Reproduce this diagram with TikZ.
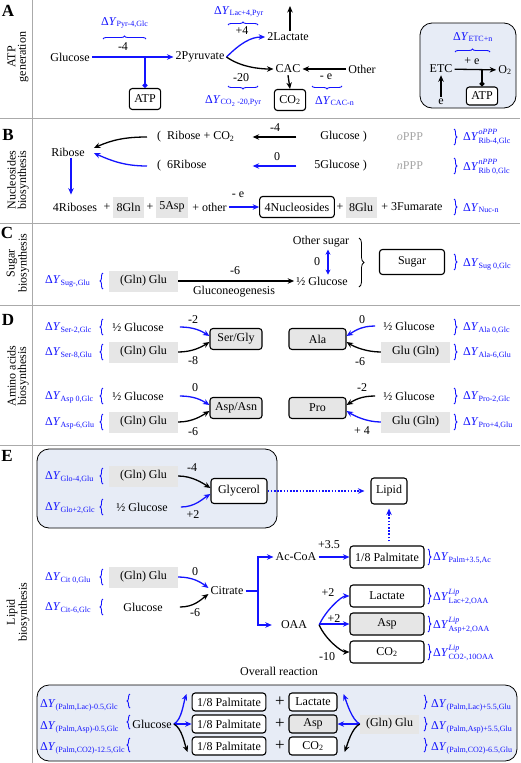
\documentclass[tikz,border=0pt]{standalone}
\usepackage{amsmath}
\usepackage{fontspec}
\setmainfont{Liberation Serif}
\usetikzlibrary{arrows.meta,decorations.pathreplacing,positioning,calc}
\definecolor{dyblue}{RGB}{20,20,255}
\definecolor{boxgray}{RGB}{230,230,230}
\definecolor{panelblue}{RGB}{231,236,246}
\definecolor{rulegray}{RGB}{170,170,170}
\definecolor{ppp}{RGB}{165,165,165}
\newcommand{\dY}[1]{\textcolor{dyblue}{Δ\textit{Y}$_{\text{#1}}$}}
\newcommand{\dYL}[2]{\textcolor{dyblue}{Δ\textit{Y}$^{\text{\raisebox{1.5pt}{\itshape #1}}}_{\text{#2}}$}}

\begin{document}
\begin{tikzpicture}[x=1pt,y=-1pt,
every node/.style={font=\fontsize{12}{13}\selectfont, inner sep=2pt},
flow/.style={-{Stealth[length=6.5pt,width=5.5pt]}, line width=1.3pt},
bflow/.style={flow, color=dyblue},
dotflow/.style={bflow, dash pattern=on 1.6pt off 1.6pt},
prod/.style={draw, rounded corners=3pt, line width=1.1pt, fill=white,
	minimum height=21pt, inner xsep=5pt},
aa/.style={prod, fill=boxgray},
thinbox/.style={minimum height=18pt, inner ysep=1pt},
src/.style={fill=boxgray, minimum height=21pt, inner xsep=3.5pt},
lft/.style={minimum width=69pt},
dy/.style={anchor=west, text=dyblue},
ybrace/.style={draw=dyblue, decorate, decoration={brace, amplitude=3pt}, line width=0.9pt},
rulel/.style={draw=rulegray, line width=1pt},
panel/.style={draw, fill=panelblue, rounded corners=12pt, line width=0.8pt},
tag/.style={font=\fontsize{17}{17}\selectfont\bfseries},
side/.style={rotate=90, align=center, font=\fontsize{12}{10.5}\selectfont}
]
\useasboundingbox (0,0) rectangle (520,763);
\fill[white] (0,0) rectangle (520,763);

% section rules
\draw[rulel] (32,0) -- (32,763);
\foreach \y in {118,223,305,445}
	\draw[rulel] (0,\y) -- (520,\y);

% ---------- A: ATP generation ----------
\node[tag] (tA) at (8,11) {A};
\node[side] (sA) at (18,57) {ATP\\generation};
\node (glc) at (70,57) {Glucose};
\node (pyr) at (200,57) {2Pyruvate};
\node[prod] (atp) at (145,99) {ATP};
\draw[bflow] (glc) -- (pyr);
\node (lPyr) at (123,47) {-4};
\draw[dyblue, line width=1.3pt, -{Circle[length=5pt]}] (atp.north |- glc) -- (atp.north);
\node[dy] (dyPyr) at (99,23) {\dY{Pyr-4,Glc}};
\draw[ybrace] (103,39) -- (146,39);

\node (lac) at (288,37) {2Lactate};
\node (cac) at (288,69) {CAC};
\node[prod] (co2a) at (290,100) {CO\textsubscript{2}};
\node (oth) at (362,69) {Other};
\coordinate (lacup) at (290,6);
\draw[bflow] (pyr.east) .. controls +(14,-14) and +(-14,0) .. (lac.west);
\draw[flow] (pyr.east) .. controls +(14,10) and +(-14,0) .. (cac.west);
\draw[flow] (lac.north -| lacup) -- (lacup);
\draw[flow] (oth.west) -- (cac.east);
\draw[flow] (cac.south) -- (co2a.north);
\node (lLac) at (242,31) {+4};
\node (lCO2) at (241,78) {-20};
\node (lOth) at (326,77) {- e};
\node[dy] (dyLac) at (212,12) {\dY{Lac+4,Pyr}};
\draw[ybrace] (228,25) -- (258,25);
\draw[ybrace] (258,86) -- (228,86);
\node[dy] (dyCO2) at (203,101) {\dY{CO\textsubscript{2} -20,Pyr}};
\draw[ybrace] (342,86) -- (312,86);
\node[dy] (dyCAC) at (313,101) {\dY{CAC-n}};

% ETC inset
\draw[panel] (420,23) rectangle (516,108);
\node[dy] (dyETC) at (451,37) {\dY{ETC+n}};
\draw[ybrace] (455,52) -- (490,52);
\node (etc) at (441,69) {ETC};
\node (o2) at (505,70) {O\textsubscript{2}};
\node[prod, minimum height=18pt] (atp2) at (482,96) {ATP};
\node (e) at (441,102) {e};
\draw[flow] (etc) -- (o2);
\node (lETC) at (472,61) {+ e};
\draw[line width=1.3pt, -{Circle[length=5pt]}] (atp2.north |- etc) -- (atp2.north);
\draw[flow] (e.north) -- (etc.south);

% ---------- B: nucleosides ----------
\node[tag] (tB) at (8,135) {B};
\node[side] (sB) at (18,180) {Nucleosides\\biosynthesis};
\node (rib) at (68,152) {Ribose};
\node[anchor=west] (ribco2) at (155,137) {(~~Ribose + CO\textsubscript{2}};
\node[anchor=west] (rib6) at (155,166) {(~~6Ribose};
\node[anchor=east] (glcox) at (369,137) {Glucose~)};
\node[anchor=east] (glcnon) at (369,166) {5Glucose~)};
\draw[flow] ($(glcnon.west |- glcox.west)+(-16,0)$) -- ($(ribco2.east)+(16,0)$);
\draw[bflow] ($(glcnon.west)+(-16,0)$) -- ($(ribco2.east |- rib6.east)+(16,0)$);
\node (lOx) at (275,128) {-4};
\node (lNon) at (277,157) {0};
\node[text=ppp] (oppp) at (410,137) {\textit{o}PPP};
\node[text=ppp] (nppp) at (410,166) {\textit{n}PPP};
\draw[ybrace] (454,129) -- (454,145);
\node[dy] (dyOx) at (461,137) {\dYL{oPPP}{Rib-4,Glc}};
\draw[ybrace] (454,158) -- (454,174);
\node[dy] (dyNon) at (461,167) {\dYL{nPPP}{Rib 0,Glc}};
\draw[flow] ([xshift=-8pt]ribco2.west) .. controls +(-22,0) and +(18,-8) .. ([xshift=7pt,yshift=4pt]rib.east);
\draw[bflow] ([xshift=-8pt]rib6.west) .. controls +(-22,0) and +(18,8) .. ([xshift=7pt,yshift=-1pt]rib.east);

\node (ribs) at (75,207) {4Riboses};
\node (p1) at (107,207) {+};
\node[src] (gln) at (128.5,207) {8Gln};
\node (p2) at (150,207) {+};
\node[src] (asp) at (172,207) {5Asp};
\node (oth2) at (209.5,207) {+ other};
\node[prod] (nuc) at (297,207) {4Nucleosides};
\node (p3) at (340,207) {+};
\node[src] (glu) at (361,207) {8Glu};
\node (fum) at (412,207) {+ 3Fumarate};
\draw[bflow, shorten >=6pt] ([xshift=3pt]rib.south) -- ([xshift=3pt]rib.south |- ribs.north);
\draw[bflow] (oth2.east) -- (nuc.west);
\node (lNuc) at (238,195) {- e};
\draw[ybrace] (454,199) -- (454,215);
\node[dy] (dyNuc) at (461,208) {\dY{Nuc-n}};

% ---------- C: sugar ----------
\node[tag] (tC) at (7,233) {C};
\node[side] (sC) at (18,263) {Sugar\\biosynthesis};
\node[dy] (dySug) at (43,281) {\dY{Sug-,Glu}};
\draw[ybrace] (103,289) -- (103,273);
\node[src, lft] (glnC) at (143.5,281) {(Gln) Glu};
\node (hglcC) at (322,281) {½ Glucose};
\draw[flow] (glnC.east) -- (hglcC.west);
\node (lGng) at (235,271) {-6};
\node (gng) at (234,292) {Gluconeogenesis};
\node (osug) at (321,242) {Other sugar};
\draw[bflow, {Stealth[length=5pt,width=5pt]}-{Stealth[length=5pt,width=5pt]}]
	([xshift=7pt]osug.south) -- ([xshift=7pt]osug.south |- hglcC.north);
\node (lOs) at (317,262) {0};
\draw[decorate, decoration={brace, amplitude=5pt}, line width=0.8pt] (359,238) -- (359,287);
\node[prod, minimum width=65pt, minimum height=25pt] (sug) at (412,262) {Sugar};
\draw[ybrace] (454,254) -- (454,270);
\node[dy] (dySug2) at (461,264) {\dY{Sug 0,Glc}};

% ---------- D: amino acids ----------
\node[tag] (tD) at (8,320) {D};
\node[side] (sD) at (18,376) {Amino acids\\biosynthesis};
\node[dy] (dySer1) at (43,328) {\dY{Ser-2,Glc}};
\node[dy] (dySer2) at (43,353) {\dY{Ser-8,Glu}};
\node[dy] (dyAsp1) at (43,397) {\dY{Asp 0,Glc}};
\node[dy] (dyAsp2) at (43,423) {\dY{Asp-6,Glu}};
\foreach \y in {327,352,396,422}
	\draw[ybrace] (103,\y+8) -- (103,\y-8);
\node (hgS) at (138,327) {½ Glucose};
\node[src,lft] (gnS) at (143.5,352) {(Gln) Glu};
\node (hgA) at (138,396) {½ Glucose};
\node[src,lft] (gnA) at (143.5,422) {(Gln) Glu};
\node[aa, minimum width=52pt] (ser) at (236,339) {Ser/Gly};
\node[aa, minimum width=52pt] (aspn) at (236,408) {Asp/Asn};
\draw[bflow] ([xshift=14pt]hgS.east) .. controls +(14,0) and +(-8,-5) .. ([yshift=3pt]ser.west);
\draw[flow] (gnS.east) .. controls +(14,0) and +(-8,5) .. ([yshift=-3pt]ser.west);
\draw[bflow] ([xshift=14pt]hgA.east) .. controls +(14,0) and +(-8,-5) .. ([yshift=3pt]aspn.west);
\draw[flow] (gnA.east) .. controls +(14,0) and +(-8,5) .. ([yshift=-3pt]aspn.west);
\node (lS1) at (193,320) {-2};
\node (lS2) at (193,361) {-8};
\node (lA1) at (195,388) {0};
\node (lA2) at (193,432) {-6};

\node[aa, minimum width=57pt] (ala) at (317.5,339) {Ala};
\node[aa, minimum width=57pt] (pro) at (317.5,408) {Pro};
\node (hgL) at (409,326) {½ Glucose};
\node[src,lft] (guL) at (415.5,352) {Glu (Gln)};
\node (hgP) at (409,396) {½ Glucose};
\node[src,lft] (guP) at (415.5,422) {Glu (Gln)};
\draw[bflow] ([xshift=-6pt]hgL.west) .. controls +(-14,0) and +(8,-5) .. ([yshift=3pt]ala.east);
\draw[flow] (guL.west) .. controls +(-14,0) and +(8,5) .. ([yshift=-3pt]ala.east);
\draw[flow] ([xshift=-6pt]hgP.west) .. controls +(-14,0) and +(8,-5) .. ([yshift=3pt]pro.east);
\draw[bflow] (guP.west) .. controls +(-14,0) and +(8,5) .. ([yshift=-3pt]pro.east);
\node (lL1) at (362,320) {0};
\node (lL2) at (360,362) {-6};
\node (lP1) at (362,388) {-2};
\node (lP2) at (362,431) {+ 4};
\foreach \y in {327,352,396,422}
	\draw[ybrace] (454,\y-8) -- (454,\y+8);
\node[dy] (dyAla1) at (461,328) {\dY{Ala 0,Glc}};
\node[dy] (dyAla2) at (461,353) {\dY{Ala-6,Glu}};
\node[dy] (dyPro1) at (461,397) {\dY{Pro-2,Glc}};
\node[dy] (dyPro2) at (461,423) {\dY{Pro+4,Glu}};

% ---------- E: lipid ----------
\node[tag] (tE) at (7,456) {E};
\node[side] (sE) at (18,612) {Lipid\\biosynthesis};
\draw[panel] (37,449) rectangle (277,528);
\node[dy] (dyGlo1) at (43,477) {\dY{Glo-4,Glu}};
\node[dy] (dyGlo2) at (43,508) {\dY{Glo+2,Glc}};
\foreach \y in {476,507,577,607}
	\draw[ybrace] (103,\y+8) -- (103,\y-8);
\node[src,lft] (gnG) at (143.5,476) {(Gln) Glu};
\node (hgG) at (142,507) {½ Glucose};
\node[prod, minimum width=56pt, minimum height=25pt] (gly) at (239,491) {Glycerol};
\draw[flow] (gnG.east) .. controls +(14,0) and +(-8,-5) .. ([yshift=3pt]gly.west);
\draw[bflow] ([xshift=11pt]hgG.east) .. controls +(14,0) and +(-8,5) .. ([yshift=-3pt]gly.west);
\node (lG1) at (192,468) {-4};
\node (lG2) at (193,515) {+2};
\node[prod, minimum height=26pt] (lip) at (389,491) {Lipid};
\draw[dotflow, shorten >=6pt] (gly.east) -- (lip.west);

\node[dy] (dyCit1) at (43,578) {\dY{Cit 0,Glu}};
\node[dy] (dyCit2) at (43,608) {\dY{Cit-6,Glc}};
\node[src,lft] (gnC) at (143.5,577) {(Gln) Glu};
\node (glcC) at (143,607) {Glucose};
\node (cit) at (227,591) {Citrate};
\draw[bflow] (gnC.east) .. controls +(14,0) and +(-8,-6) .. ([yshift=3pt]cit.west);
\draw[flow] ([xshift=15pt]glcC.east) .. controls +(14,0) and +(-8,6) .. ([yshift=-3pt]cit.west);
\node (lC1) at (195,572) {0};
\node (lC2) at (195,613) {-6};

\coordinate (br) at (258,591);
\node (acoa) at (296,557) {Ac-CoA};
\node (oaa) at (294,625) {OAA};
\draw[dyblue, line width=1.3pt] (cit.east) -- (br);
\draw[bflow] (br) |- (acoa.west);
\draw[bflow] (br) |- ([xshift=-7pt]oaa.west);

\node[prod, minimum width=74pt, minimum height=22pt] (palm) at (387,557) {1/8 Palmitate};
\node[prod, minimum width=74pt, minimum height=22pt] (lacE) at (387,596) {Lactate};
\node[aa, minimum width=74pt, minimum height=22pt] (aspE) at (387,624) {Asp};
\node[prod, minimum width=74pt, minimum height=22pt] (co2E) at (387,652) {CO\textsubscript{2}};
\draw[bflow] (acoa.east) -- (palm.west);
\node (lAc) at (329,545) {+3.5};
\draw[dotflow, shorten <=4pt, shorten >=4pt] (lip.south |- palm.north) -- (lip.south);
\draw[bflow] ([xshift=10pt]oaa.east) .. controls +(6,-14) and +(-8,0) .. (lacE.west);
\draw[bflow] ([xshift=10pt]oaa.east |- aspE.west) -- (aspE.west);
\draw[flow] ([xshift=10pt]oaa.east) .. controls +(6,14) and +(-8,0) .. (co2E.west);
\node (lO1) at (328,593) {+2};
\node (lO2) at (334,619) {+2};
\node (lO3) at (327,657) {-10};
\draw[ybrace] (428,549) -- (428,565);
\node[dy] (dyPalm) at (431,558) {\dY{Palm+3.5,Ac}};
\draw[ybrace] (428,588) -- (428,604);
\node[dy] (dyLacE) at (431,597) {\dYL{Lip}{Lac+2,OAA}};
\draw[ybrace] (428,616) -- (428,632);
\node[dy] (dyAspE) at (431,625) {\dYL{Lip}{Asp+2,OAA}};
\draw[ybrace] (428,644) -- (428,660);
\node[dy] (dyCO2E) at (431,653) {\dYL{Lip}{CO2-,10OAA}};

\node (ovr) at (279,671) {Overall reaction};

% overall reaction panel
\draw[panel] (37,685) rectangle (517,761);
\node[dy] (dyB1) at (38,705) {\dY{(Palm,Lac)-0.5,Glc}};
\node[dy] (dyB2) at (38,727) {\dY{(Palm,Asp)-0.5,Glc}};
\node[dy] (dyB3) at (38,748) {\dY{(Palm,CO2)-12.5,Glc}};
\foreach \y in {701,722,745}
	\draw[ybrace] (130,\y+7) -- (130,\y-7);
\node (glcB) at (152,724) {Glucose};
\node[prod, thinbox, minimum width=72pt] (pal1) at (229,702) {1/8 Palmitate};
\node[prod, thinbox, minimum width=72pt] (pal2) at (229,724) {1/8 Palmitate};
\node[prod, thinbox, minimum width=72pt] (pal3) at (229,746) {1/8 Palmitate};
\node[font=\fontsize{17}{17}\selectfont] (pl1) at (280,702) {+};
\node[font=\fontsize{17}{17}\selectfont] (pl2) at (280,724) {+};
\node[font=\fontsize{17}{17}\selectfont] (pl3) at (280,746) {+};
\node[prod, thinbox, minimum width=48pt] (lacB) at (313,702) {Lactate};
\node[aa, thinbox, minimum width=48pt] (aspB) at (313,724) {Asp};
\node[prod, thinbox, minimum width=48pt] (co2B) at (313,746) {CO\textsubscript{2}};
\node[src, minimum width=59pt, minimum height=19pt] (gnB) at (389.5,724) {(Gln) Glu};
\draw[bflow] (glcB.east) .. controls +(8,-4) and +(-3,8) .. ([xshift=-5pt,yshift=8pt]pal1.west);
\draw[bflow] (glcB.east) -- (pal2.west);
\draw[flow] (glcB.east) .. controls +(8,4) and +(-3,-8) .. ([xshift=-4pt,yshift=-6pt]pal3.west);
\draw[bflow] (gnB.west) .. controls +(-8,-4) and +(3,8) .. ([xshift=6pt,yshift=8pt]lacB.east);
\draw[bflow] (gnB.west) -- (aspB.east);
\draw[flow] (gnB.west) .. controls +(-8,4) and +(3,-8) .. ([xshift=7pt,yshift=-6pt]co2B.east);
\foreach \y in {702,724,745}
	\draw[ybrace] (424,\y-7) -- (424,\y+7);
\node[dy] (dyB4) at (429,705) {\dY{(Palm,Lac)+5.5,Glu}};
\node[dy] (dyB5) at (429,727) {\dY{(Palm,Asp)+5.5,Glu}};
\node[dy] (dyB6) at (429,748) {\dY{(Palm,CO2)-6.5,Glu}};
\end{tikzpicture}
\end{document}
